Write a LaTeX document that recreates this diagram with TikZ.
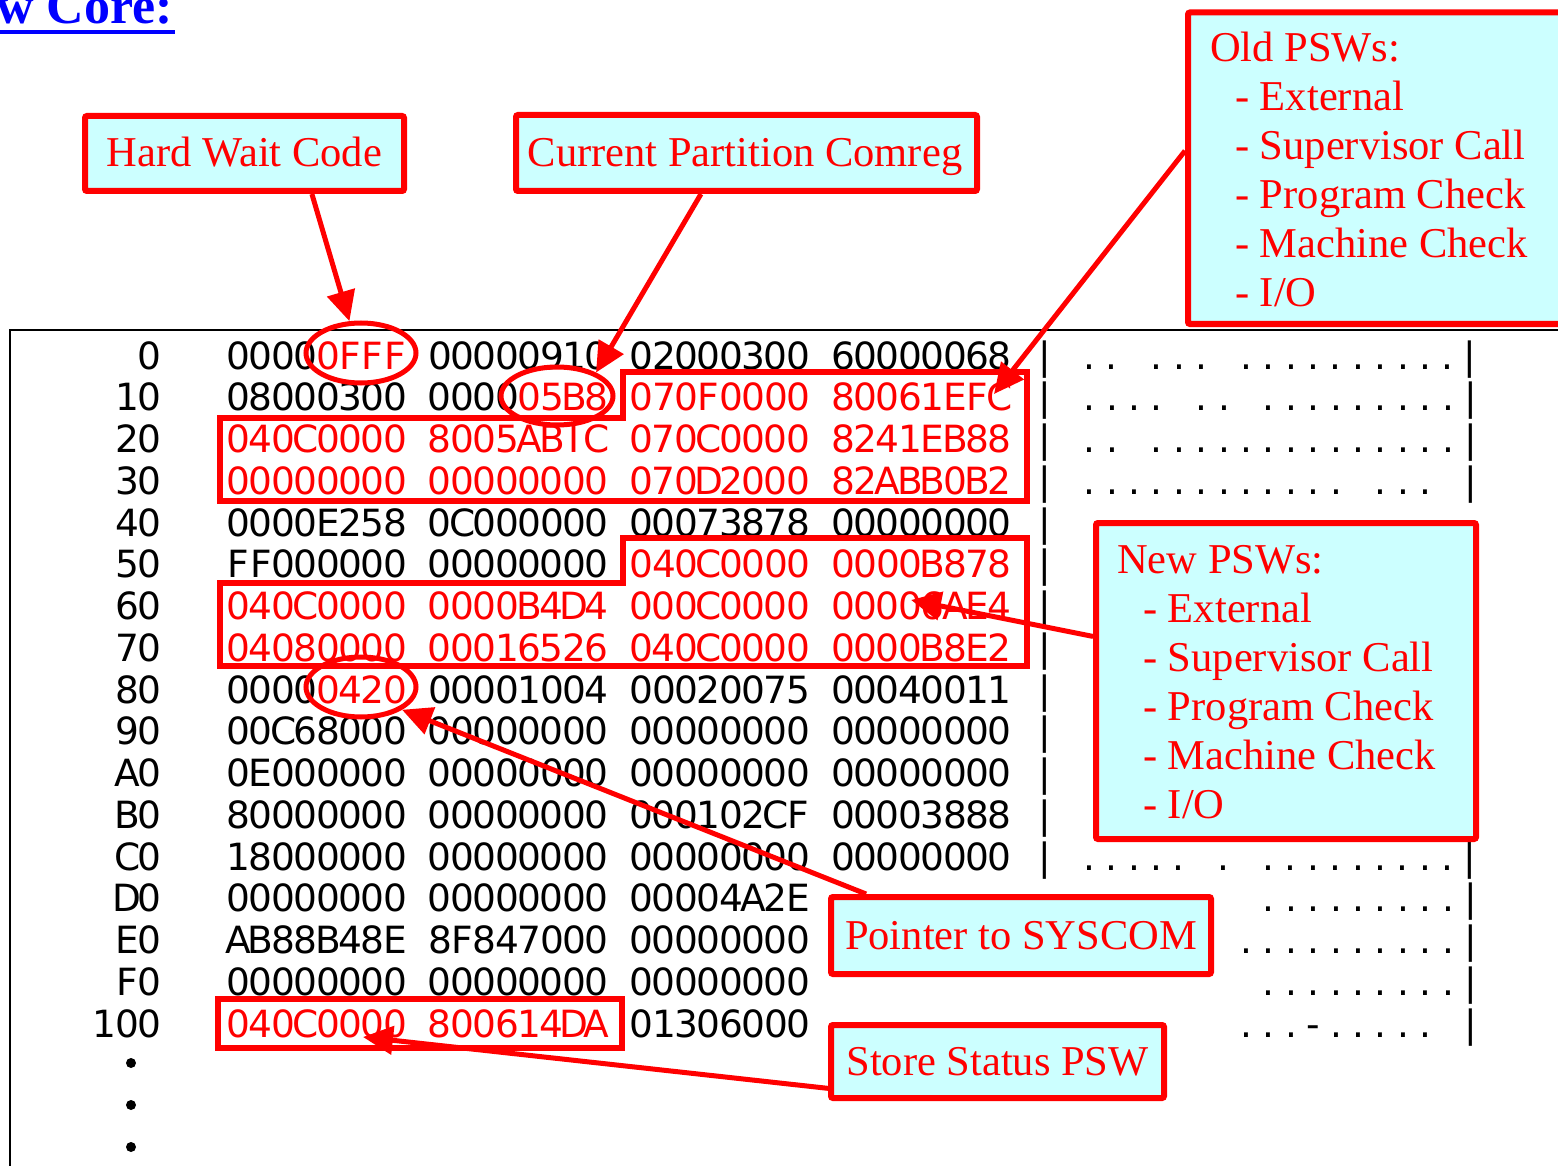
\documentclass[tikz,border=0pt]{standalone}
\usepackage{fontspec}
\setmainfont{Liberation Serif}
\newfontfamily\dumpfont{DejaVu Sans}
\usetikzlibrary{arrows.meta,shapes.geometric}
\definecolor{cyanfill}{HTML}{CCFFFF}
\newlength\cw \setlength\cw{22.4pt}
\makeatletter
\def\mono#1{\mono@a#1\relax}
\def\mono@a#1{\ifx\relax#1\else\ifx+#1\hbox to\cw{}\else\hbox to\cw{\hss#1\hss}\fi\expandafter\mono@a\fi}
\makeatother
\tikzset{
  dump/.style={font=\dumpfont\fontsize{37.5}{40}\selectfont, inner sep=0pt, text=black},
  callout/.style={draw=red, fill=cyanfill, line width=6pt, rounded corners=2pt, inner sep=0pt},
  lbl/.style={text=red, font=\fontsize{42.5}{48}\selectfont, inner sep=0pt},
  redline/.style={draw=red, line width=5.5pt},
  ring/.style={ellipse, draw=red, line width=5pt, inner sep=0pt},
  arr/.style={draw=red, line width=5pt, -{Triangle[length=30pt,width=28pt]}},
  bullet/.style={circle, fill=black, inner sep=0pt, minimum size=10pt}
}
\begin{document}
\begin{tikzpicture}[x=1pt,y=-1pt]
\useasboundingbox (0,0) rectangle (1558,1166);
% title
\node[text=blue, font=\bfseries\fontsize{52}{56}\selectfont, inner sep=0pt, anchor=base east] (title) at (173,24) {w Core:};
\draw[blue, line width=4pt] (0,32) -- (175,32);
% frame
\draw[black, line width=2.5pt] (10,1170) -- (10,330) -- (1565,330);
% dump rows
\foreach \i/\lab/\txt in {
 0/0/{\mono{0000}\color{red}\mono{0FFF}\color{black}\mono{+00000910+02000300+60000068+|+..+...+..........|}},
 1/10/{\mono{08000300+0000}\color{red}\mono{05B8+070F0000+80061EFC}\color{black}\mono{+|+....+..+.........|}},
 2/20/{\color{red}\mono{040C0000+8005ABIC+070C0000+8241EB88}\color{black}\mono{+|+..+..............|}},
 3/30/{\color{red}\mono{00000000+00000000+070D2000+82ABB0B2}\color{black}\mono{+|+............+...+|}},
 4/40/{\mono{0000E258+0C000000+00073878+00000000+|}},
 5/50/{\mono{FF000000+00000000+}\color{red}\mono{040C0000+0000B878}\color{black}\mono{+|}},
 6/60/{\color{red}\mono{040C0000+0000B4D4+000C0000+00006AE4}\color{black}\mono{+|}},
 7/70/{\color{red}\mono{04080000+00016526+040C0000+0000B8E2}\color{black}\mono{+|}},
 8/80/{\mono{0000}\color{red}\mono{0420}\color{black}\mono{+00001004+00020075+00040011+|}},
 9/90/{\mono{00C68000+00000000+00000000+00000000+|}},
 10/A0/{\mono{0E000000+00000000+00000000+00000000+|}},
 11/B0/{\mono{80000000+00000000+000102CF+00003888+|}},
 12/C0/{\mono{18000000+00000000+00000000+00000000+|+.....+.+.........|}},
 13/D0/{\mono{00000000+00000000+00004A2E}\hskip20\cw\mono{.........|}},
 14/E0/{\mono{AB88B48E+8F847000+00000000}\hskip19\cw\mono{..........|}},
 15/F0/{\mono{00000000+00000000+00000000}\hskip20\cw\mono{.........|}},
 16/100/{\color{red}\mono{040C0000+800614DA}\color{black}\mono{+01306000}\hskip19\cw\mono{...-.....+|}}
}{
 \node[dump, anchor=base east] (a\i) at (161,{369+41.75*\i}) {\expandafter\mono\expandafter{\lab}};
 \node[dump, anchor=base west] (r\i) at (227,{369+41.75*\i}) {\txt};
}
\node[bullet] (d1) at (131,1063) {};
\node[bullet] (d2) at (131,1105) {};
\node[bullet] (d3) at (131,1147) {};
% red outlines in dump
\draw[redline] (623,372) -- (1027,372) -- (1027,501) -- (220,501) -- (220,418) -- (623,418) -- cycle;
\draw[redline] (623,538) -- (1027,538) -- (1027,666) -- (220,666) -- (220,583) -- (623,583) -- cycle;
\node[draw=red, line width=5.5pt, inner sep=0pt, minimum width=404pt, minimum height=49pt] (b100) at (420,1023.5) {};
\node[ring, minimum width=110pt, minimum height=60pt] (e1) at (361,353) {};
\node[ring, minimum width=112pt, minimum height=58pt] (e2) at (557,396) {};
\node[ring, minimum width=110pt, minimum height=60pt] (e3) at (361,687) {};
% callouts
\node[callout, minimum width=319pt, minimum height=75pt] (hwbox) at (244.5,153.5) {};
\node[callout, minimum width=461pt, minimum height=76pt] (cpbox) at (746.5,153) {};
\node[callout, minimum width=392pt, minimum height=311.5pt] (oldbox) at (1384,168.25) {};
\node[callout, minimum width=380pt, minimum height=316pt] (newbox) at (1286,681) {};
\node[callout, minimum width=380pt, minimum height=77pt] (ptrbox) at (1021,935.5) {};
\node[callout, minimum width=333pt, minimum height=73pt] (ssbox) at (997.5,1061.5) {};
\node[lbl, anchor=base] (hwt) at (244.5,167) {Hard Wait Code};
\node[lbl, anchor=base] (cpt) at (745,167) {Current Partition Comreg};
\node[lbl, anchor=base] (ptrt) at (1021,949) {Pointer to SYSCOM};
\node[lbl, anchor=base] (sst) at (997.5,1075) {Store Status PSW};
\node[lbl, anchor=base west] (o0) at (1210,62) {Old PSWs:};
\node[lbl, anchor=base west] (o1) at (1235,111) {- External};
\node[lbl, anchor=base west] (o2) at (1235,160) {- Supervisor Call};
\node[lbl, anchor=base west] (o3) at (1235,209) {- Program Check};
\node[lbl, anchor=base west] (o4) at (1235,258) {- Machine Check};
\node[lbl, anchor=base west] (o5) at (1235,307) {- I/O};
\node[lbl, anchor=base west] (n0) at (1117,573) {New PSWs:};
\node[lbl, anchor=base west] (n1) at (1143,622) {- External};
\node[lbl, anchor=base west] (n2) at (1143,671) {- Supervisor Call};
\node[lbl, anchor=base west] (n3) at (1143,720) {- Program Check};
\node[lbl, anchor=base west] (n4) at (1143,769) {- Machine Check};
\node[lbl, anchor=base west] (n5) at (1143,818) {- I/O};
% arrows
\coordinate (oldtip) at (994,394);
\coordinate (newtip) at (911,600);
\coordinate (sstip) at (363,1037);
\draw[arr] (hwbox.-31.8) -- (e1.110);
\draw[arr] (cpbox.222.5) -- (e2.31);
\draw[arr] (oldbox.175.55) -- (oldtip);
\draw[arr] (newbox.167) -- (newtip);
\draw[arr] (ptrbox.165.03) -- (e3.-29);
\draw[arr] (ssbox.189.7) -- (sstip);
\end{tikzpicture}
\end{document}
